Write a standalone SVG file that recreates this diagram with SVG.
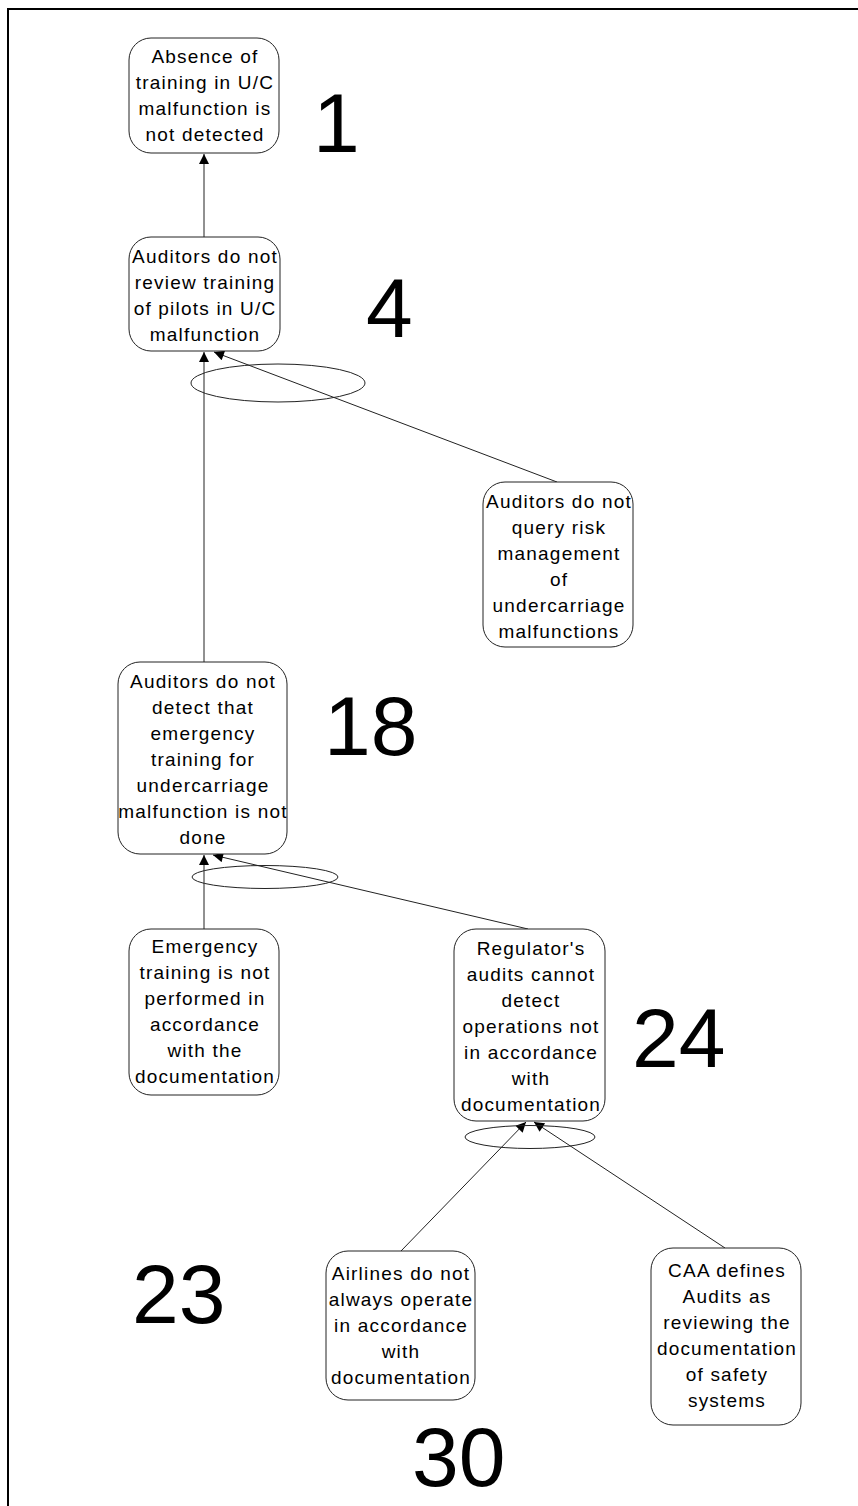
<svg xmlns="http://www.w3.org/2000/svg" width="858" height="1506" viewBox="0 0 858 1506">
<style>
.node rect{fill:#fff;stroke:#222;stroke-width:1}
.node text{font-family:"Liberation Sans",Arial,sans-serif;font-size:19px;letter-spacing:1.2px;text-anchor:middle;fill:#000}
.num{font-family:"Liberation Sans",Arial,sans-serif;font-size:84px;fill:#000}
.conn line{stroke:#222;stroke-width:1}
.conn ellipse{fill:none;stroke:#222;stroke-width:1}
</style>
<defs>
<marker id="arr" viewBox="0 0 10 10" refX="10" refY="5" markerWidth="13" markerHeight="10" markerUnits="userSpaceOnUse" orient="auto">
<path d="M0,0 L10,5 L0,10 z" fill="#000"/>
</marker>
</defs>
<rect width="858" height="1506" fill="#fff"/>
<path d="M8,1506 V9 H858" fill="none" stroke="#000" stroke-width="2"/>

<g id="connectors" class="conn">
<line x1="204" y1="237" x2="204" y2="154" marker-end="url(#arr)"/>
<line x1="204" y1="662" x2="204" y2="352" marker-end="url(#arr)"/>
<line x1="557" y1="482" x2="214" y2="352" marker-end="url(#arr)"/>
<ellipse cx="278" cy="383" rx="87" ry="19"/>
<line x1="204" y1="929" x2="204" y2="855" marker-end="url(#arr)"/>
<line x1="528" y1="929" x2="213" y2="855" marker-end="url(#arr)"/>
<ellipse cx="265" cy="877" rx="73" ry="11.5"/>
<line x1="401" y1="1251" x2="526" y2="1122" marker-end="url(#arr)"/>
<line x1="725" y1="1248" x2="534" y2="1122" marker-end="url(#arr)"/>
<ellipse cx="530" cy="1137" rx="65" ry="11.5"/>
</g>

<g id="n1" class="node">
<rect x="129" y="38" width="150" height="115" rx="22"/>
<text x="205" y="63">Absence of</text>
<text x="205" y="89">training in U/C</text>
<text x="205" y="115">malfunction is</text>
<text x="205" y="141">not detected</text>
</g>
<g id="n4" class="node">
<rect x="129" y="237" width="151" height="114" rx="22"/>
<text x="205" y="263">Auditors do not</text>
<text x="205" y="289">review training</text>
<text x="205" y="315">of pilots in U/C</text>
<text x="205" y="341">malfunction</text>
</g>
<g id="nq" class="node">
<rect x="483" y="482" width="150" height="165" rx="22"/>
<text x="559" y="508">Auditors do not</text>
<text x="559" y="534">query risk</text>
<text x="559" y="560">management</text>
<text x="559" y="586">of</text>
<text x="559" y="612">undercarriage</text>
<text x="559" y="638">malfunctions</text>
</g>
<g id="n18" class="node">
<rect x="118" y="662" width="169" height="192" rx="22"/>
<text x="203" y="688">Auditors do not</text>
<text x="203" y="714">detect that</text>
<text x="203" y="740">emergency</text>
<text x="203" y="766">training for</text>
<text x="203" y="792">undercarriage</text>
<text x="203" y="818">malfunction is not</text>
<text x="203" y="844">done</text>
</g>
<g id="ne" class="node">
<rect x="129" y="929" width="150" height="166" rx="22"/>
<text x="205" y="953">Emergency</text>
<text x="205" y="979">training is not</text>
<text x="205" y="1005">performed in</text>
<text x="205" y="1031">accordance</text>
<text x="205" y="1057">with the</text>
<text x="205" y="1083">documentation</text>
</g>
<g id="n24" class="node">
<rect x="454" y="929" width="151" height="192" rx="22"/>
<text x="531" y="955">Regulator's</text>
<text x="531" y="981">audits cannot</text>
<text x="531" y="1007">detect</text>
<text x="531" y="1033">operations not</text>
<text x="531" y="1059">in accordance</text>
<text x="531" y="1085">with</text>
<text x="531" y="1111">documentation</text>
</g>
<g id="na" class="node">
<rect x="326" y="1251" width="149" height="149" rx="22"/>
<text x="401" y="1280">Airlines do not</text>
<text x="401" y="1306">always operate</text>
<text x="401" y="1332">in accordance</text>
<text x="401" y="1358">with</text>
<text x="401" y="1384">documentation</text>
</g>
<g id="nc" class="node">
<rect x="651" y="1248" width="150" height="177" rx="22"/>
<text x="727" y="1277">CAA defines</text>
<text x="727" y="1303">Audits as</text>
<text x="727" y="1329">reviewing the</text>
<text x="727" y="1355">documentation</text>
<text x="727" y="1381">of safety</text>
<text x="727" y="1407">systems</text>
</g>

<g id="labels">
<text class="num" x="313" y="152">1</text>
<text class="num" x="366" y="337">4</text>
<text class="num" x="324" y="755">18</text>
<text class="num" x="632" y="1067">24</text>
<text class="num" x="132" y="1323">23</text>
<text class="num" x="412" y="1486">30</text>
</g>
</svg>
